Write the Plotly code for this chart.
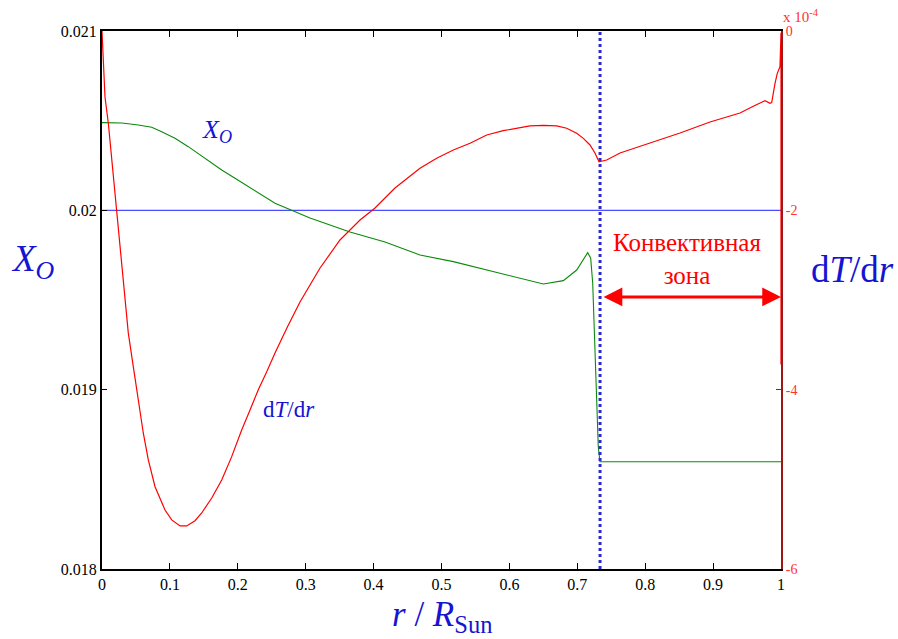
import plotly.graph_objects as go

# ---------------- data ----------------
# Oxygen abundance X_O vs r/R_sun (left axis)
r_xo = [0.0, 0.0294, 0.0535, 0.0732, 0.0879, 0.1075, 0.1271, 0.1517, 0.1763, 0.1959,
        0.2155, 0.2352, 0.2548, 0.3063, 0.3652, 0.4168, 0.4683, 0.5174, 0.5666, 0.6157,
        0.6499, 0.6794, 0.6991, 0.7153, 0.7197, 0.7227, 0.7246, 0.7271, 0.7286, 0.7309,
        0.7334, 1.0]
xo = [0.020489, 0.020487, 0.020476, 0.020463, 0.020438, 0.020402, 0.020355, 0.020290,
      0.020225, 0.020179, 0.020132, 0.020086, 0.020039, 0.019957, 0.019879, 0.019823,
      0.019751, 0.019714, 0.019667, 0.019621, 0.019589, 0.019608, 0.019667, 0.019764,
      0.019733, 0.019593, 0.019407, 0.019147, 0.018924, 0.018682, 0.018598, 0.018598]

# Temperature gradient dT/dr in units of 1e-4 (right axis)
r_dt = [0.0, 0.0044, 0.0093, 0.0217, 0.029, 0.0339, 0.0387, 0.0461, 0.0535, 0.0608,
        0.0682, 0.0781, 0.0928, 0.1027, 0.1149, 0.1247, 0.137, 0.1468, 0.1616, 0.1763,
        0.191, 0.2057, 0.218, 0.2302, 0.2426, 0.2548, 0.273, 0.2916, 0.3211, 0.3505,
        0.38, 0.4021, 0.4315, 0.4683, 0.4929, 0.5174, 0.542, 0.5666, 0.591, 0.6303,
        0.65, 0.6697, 0.6844, 0.6991, 0.7089, 0.7187, 0.726, 0.732, 0.7433, 0.7629,
        0.8071, 0.8513, 0.8954, 0.9396, 0.9592, 0.9764, 0.9838, 0.9863, 0.9912, 0.9945,
        0.9985, 1.0, 1.0]
dtdr = [0.0, -0.736, -1.026, -1.996, -2.587, -3.0, -3.367, -3.744, -4.115, -4.483,
        -4.784, -5.082, -5.342, -5.453, -5.52, -5.52, -5.461, -5.375, -5.208, -5.007,
        -4.747, -4.45, -4.227, -4.0, -3.8, -3.59, -3.3, -3.022, -2.643, -2.331,
        -2.108, -1.974, -1.751, -1.531, -1.42, -1.327, -1.252, -1.16, -1.112, -1.059,
        -1.052, -1.059, -1.085, -1.141, -1.197, -1.271, -1.361, -1.458, -1.439, -1.361,
        -1.249, -1.137, -1.015, -0.915, -0.84, -0.777, -0.806, -0.799, -0.583, -0.472,
        -0.398, -0.02, -3.72]

xo_ref = 0.02          # reference horizontal level
r_cz = 0.7335          # base of the convective zone
arrow_level = 0.019517 # X_O level of the arrow

x_ticks = [0, 0.1, 0.2, 0.3, 0.4, 0.5, 0.6, 0.7, 0.8, 0.9, 1.0]
x_ticktext = ["0", "0.1", "0.2", "0.3", "0.4", "0.5", "0.6", "0.7", "0.8", "0.9", "1"]
y_ticks = [0.018, 0.019, 0.02, 0.021]
y_ticktext = ["0.018", "0.019", "0.02", "0.021"]
y2_ticks = [0, -2, -4, -6]
y2_ticktext = ["0", "-2", "-4", "-6"]

SERIF = "Liberation Serif"
BLUE = "#1414d2"
RED = "#ff0000"

fig = go.Figure()
fig.add_trace(go.Scatter(x=[0, 1], y=[xo_ref, xo_ref], mode="lines",
                         line=dict(color="#4a4aff", width=1.2), yaxis="y", showlegend=False))
fig.add_trace(go.Scatter(x=r_xo, y=xo, mode="lines",
                         line=dict(color="#0a8a0a", width=1.1), yaxis="y", showlegend=False))
fig.add_trace(go.Scatter(x=r_dt, y=dtdr, mode="lines",
                         line=dict(color=RED, width=1.2), yaxis="y2", showlegend=False))
fig.add_trace(go.Scatter(x=[r_cz, r_cz], y=[0.018, 0.021], mode="lines",
                         line=dict(color="#2a2ad0", width=3, dash="dot"),
                         yaxis="y", showlegend=False))

annotations = [
    dict(x=1.0, y=arrow_level, ax=r_cz + 0.003, ay=arrow_level, xref="x", yref="y",
         axref="x", ayref="y", text="", showarrow=True, arrowhead=2, startarrowhead=2,
         arrowside="end+start", arrowsize=1.25, startarrowsize=1.25, arrowwidth=3,
         arrowcolor=RED),
    dict(x=0.862, y=0.01973, xref="x", yref="y", showarrow=False,
         text="Конвективная<br>зона", font=dict(family=SERIF, size=25, color=RED)),
    dict(x=0.17, y=0.02044, xref="x", yref="y", showarrow=False,
         text="<i>X<sub>O</sub></i>", font=dict(family=SERIF, size=26, color=BLUE)),
    dict(x=0.276, y=0.01889, xref="x", yref="y", showarrow=False,
         text="d<i>T</i>/d<i>r</i>", font=dict(family=SERIF, size=23, color=BLUE)),
    dict(x=-0.102, y=0.571, xref="paper", yref="paper", xanchor="center", yanchor="middle",
         showarrow=False,
         text="<i>X<sub>O</sub></i>", font=dict(family=SERIF, size=37, color=BLUE)),
    dict(x=1.105, y=0.556, xref="paper", yref="paper", xanchor="center", yanchor="middle",
         showarrow=False,
         text="d<i>T</i>/d<i>r</i>", font=dict(family=SERIF, size=37, color=BLUE)),
    dict(x=0.5, y=-0.089, xref="paper", yref="paper", xanchor="center", yanchor="middle",
         showarrow=False,
         text="<i>r</i> / <i>R</i><sub>Sun</sub>", font=dict(family=SERIF, size=35, color=BLUE)),
    dict(x=1.0, y=1.0, xref="paper", yref="paper", xanchor="left", yanchor="bottom",
         yshift=4, showarrow=False, text="x 10<sup>-4</sup>",
         font=dict(family=SERIF, size=15, color="#ff3030")),
]

fig.update_layout(
    width=898, height=639,
    margin=dict(l=102, r=117, t=31, b=70),
    paper_bgcolor="white", plot_bgcolor="white",
    showlegend=False,
    annotations=annotations,
    xaxis=dict(range=[0, 1], tickvals=x_ticks, ticktext=x_ticktext,
               ticks="inside", ticklen=6, tickcolor="black", tickwidth=1,
               showline=True, linecolor="black", linewidth=2, mirror="ticks",
               showgrid=False, zeroline=False, automargin=False,
               tickfont=dict(family=SERIF, size=16, color="black")),
    yaxis=dict(range=[0.018, 0.021], tickvals=y_ticks, ticktext=y_ticktext,
               ticks="inside", ticklen=5, tickcolor="black",
               showline=True, linecolor="black", linewidth=2,
               showgrid=False, zeroline=False, automargin=False,
               tickfont=dict(family=SERIF, size=16, color="black")),
    yaxis2=dict(range=[-6, 0], tickvals=y2_ticks, ticktext=y2_ticktext,
                overlaying="y", side="right", anchor="x",
                ticks="inside", ticklen=5, tickcolor="#a01515",
                showline=True, linecolor="#a01515", linewidth=2, layer="below traces",
                showgrid=False, zeroline=False, automargin=False,
                tickfont=dict(family=SERIF, size=14, color="#ff3030")),
)

fig.write_html("out.html")
